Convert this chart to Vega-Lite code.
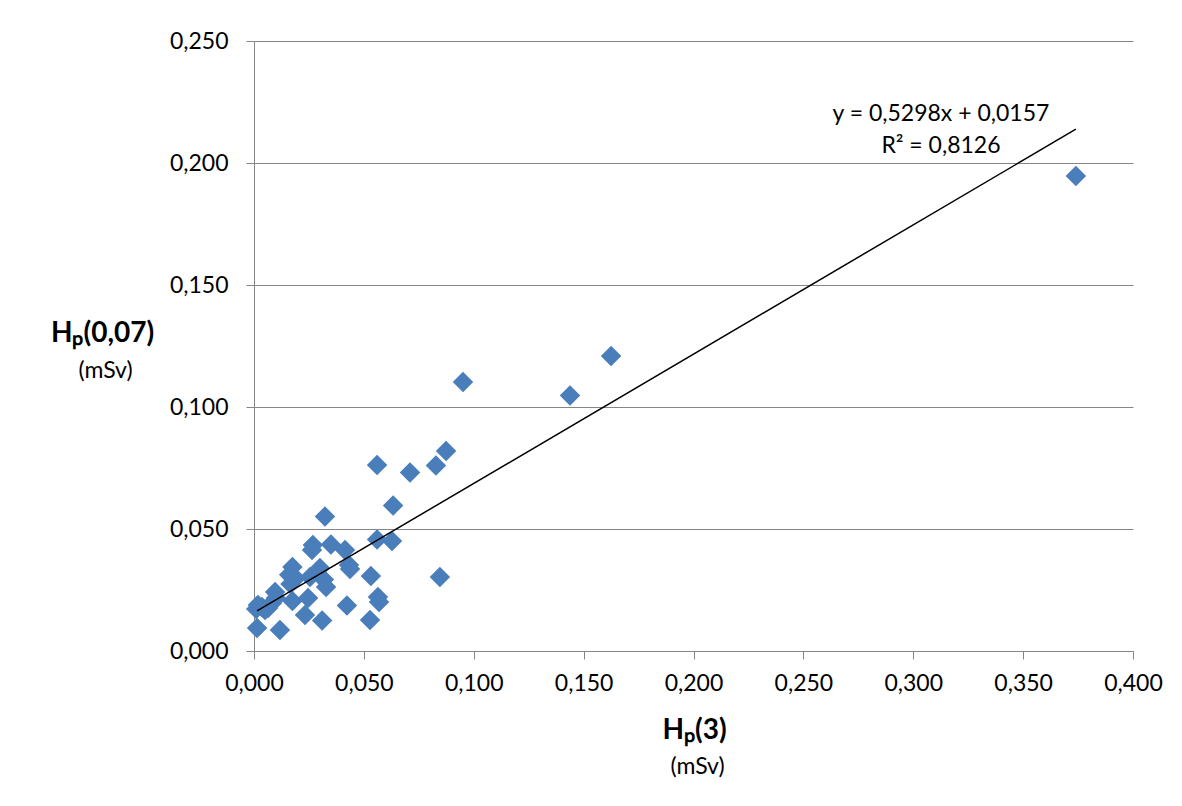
{
  "$schema": "https://vega.github.io/schema/vega-lite/v6.json",
  "width": 879,
  "height": 610,
  "autosize": {"type": "none"},
  "padding": {"left": 254, "top": 41, "right": 49, "bottom": 155},
  "background": "#ffffff",
  "config": {
    "view": {"stroke": null},
    "font": "Lato",
    "axis": {
      "labelFont": "Lato",
      "labelFontSize": 23,
      "labelColor": "#000000",
      "labelFlush": false,
      "labelOverlap": false,
      "titleFont": "Lato",
      "titleColor": "#000000",
      "domainColor": "#868686",
      "tickColor": "#868686",
      "gridColor": "#868686",
      "gridOpacity": 1,
      "tickSize": 8
    }
  },
  "resolve": {"axis": {"x": "independent", "y": "independent"}},
  "layer": [
    {
      "data": {
        "values": [
          {"hp3": 0.374, "hp007": 0.1947},
          {"hp3": 0.1625, "hp007": 0.1209},
          {"hp3": 0.1438, "hp007": 0.1047},
          {"hp3": 0.0951, "hp007": 0.1102},
          {"hp3": 0.0874, "hp007": 0.082},
          {"hp3": 0.0828, "hp007": 0.076},
          {"hp3": 0.071, "hp007": 0.0732},
          {"hp3": 0.056, "hp007": 0.0762},
          {"hp3": 0.0633, "hp007": 0.0596},
          {"hp3": 0.0323, "hp007": 0.0551},
          {"hp3": 0.0628, "hp007": 0.0451},
          {"hp3": 0.056, "hp007": 0.0457},
          {"hp3": 0.0846, "hp007": 0.0303},
          {"hp3": 0.035, "hp007": 0.0436},
          {"hp3": 0.0414, "hp007": 0.0414},
          {"hp3": 0.0268, "hp007": 0.0434},
          {"hp3": 0.0264, "hp007": 0.0414},
          {"hp3": 0.0432, "hp007": 0.0352},
          {"hp3": 0.0437, "hp007": 0.0336},
          {"hp3": 0.0532, "hp007": 0.0307},
          {"hp3": 0.03, "hp007": 0.034},
          {"hp3": 0.0318, "hp007": 0.0293},
          {"hp3": 0.0328, "hp007": 0.0262},
          {"hp3": 0.0255, "hp007": 0.0303},
          {"hp3": 0.0175, "hp007": 0.0344},
          {"hp3": 0.016, "hp007": 0.0312},
          {"hp3": 0.0166, "hp007": 0.0275},
          {"hp3": 0.019, "hp007": 0.0298},
          {"hp3": 0.0246, "hp007": 0.0217},
          {"hp3": 0.0175, "hp007": 0.0205},
          {"hp3": 0.0564, "hp007": 0.0221},
          {"hp3": 0.0569, "hp007": 0.0201},
          {"hp3": 0.0423, "hp007": 0.0186},
          {"hp3": 0.0232, "hp007": 0.0148},
          {"hp3": 0.031, "hp007": 0.0125},
          {"hp3": 0.0528, "hp007": 0.0127},
          {"hp3": 0.0118, "hp007": 0.0086},
          {"hp3": 0.0014, "hp007": 0.0094},
          {"hp3": 0.0018, "hp007": 0.0189},
          {"hp3": 0.0036, "hp007": 0.018},
          {"hp3": 0.0064, "hp007": 0.0176},
          {"hp3": 0.0082, "hp007": 0.0197},
          {"hp3": 0.01, "hp007": 0.0217},
          {"hp3": 0.0096, "hp007": 0.0242},
          {"hp3": 0.005, "hp007": 0.0168},
          {"hp3": 0.001, "hp007": 0.0172}
        ]
      },
      "mark": {"type": "point", "shape": "diamond", "filled": true, "size": 420, "color": "#4a7ebb", "opacity": 1},
      "encoding": {
        "x": {
          "field": "hp3",
          "type": "quantitative",
          "scale": {"domain": [0, 0.4], "nice": false, "zero": true},
          "axis": {
            "orient": "bottom",
            "values": [0, 0.05, 0.1, 0.15, 0.2, 0.25, 0.3, 0.35, 0.4],
            "labelExpr": "replace(format(datum.value, '.3f'), '.', ',')",
            "grid": false,
            "labelPadding": 13,
            "title": "Hₚ(3)",
            "titleFontSize": 28,
            "titleFontWeight": "bold",
            "titleAlign": "center",
            "titleBaseline": "middle",
            "titleX": 440,
            "titleY": 79
          }
        },
        "y": {
          "field": "hp007",
          "type": "quantitative",
          "scale": {"domain": [0, 0.25], "nice": false, "zero": true},
          "axis": {
            "orient": "left",
            "values": [0, 0.05, 0.1, 0.15, 0.2, 0.25],
            "labelExpr": "replace(format(datum.value, '.3f'), '.', ',')",
            "grid": true,
            "labelPadding": 18,
            "title": "Hₚ(0,07)",
            "titleFontSize": 28,
            "titleFontWeight": "bold",
            "titleAngle": 0,
            "titleAlign": "center",
            "titleBaseline": "middle",
            "titleX": -152,
            "titleY": 292
          }
        }
      }
    },
    {
      "data": {
        "values": [
          {"hp3": 0.0014, "hp007": 0.01644},
          {"hp3": 0.374, "hp007": 0.21385}
        ]
      },
      "mark": {"type": "line", "color": "#000000", "strokeWidth": 1.5},
      "encoding": {
        "x": {
          "field": "hp3",
          "type": "quantitative",
          "axis": {
            "orient": "bottom",
            "domain": false,
            "ticks": false,
            "labels": false,
            "grid": false,
            "title": "(mSv)",
            "titleFontSize": 23,
            "titleFontWeight": "normal",
            "titleAlign": "center",
            "titleBaseline": "middle",
            "titleX": 443,
            "titleY": 115
          }
        },
        "y": {
          "field": "hp007",
          "type": "quantitative",
          "axis": {
            "orient": "left",
            "domain": false,
            "ticks": false,
            "labels": false,
            "grid": false,
            "title": "(mSv)",
            "titleFontSize": 23,
            "titleFontWeight": "normal",
            "titleAngle": 0,
            "titleAlign": "center",
            "titleBaseline": "middle",
            "titleX": -149,
            "titleY": 329
          }
        }
      }
    },
    {
      "data": {
        "values": [
          {"hp3": 0.3126, "hp007": 0.2201, "label": "y = 0,5298x + 0,0157"},
          {"hp3": 0.3126, "hp007": 0.207, "label": "R² = 0,8126"}
        ]
      },
      "mark": {"type": "text", "font": "Lato", "fontSize": 23, "color": "#000000", "align": "center", "baseline": "middle"},
      "encoding": {
        "x": {"field": "hp3", "type": "quantitative", "axis": null},
        "y": {"field": "hp007", "type": "quantitative", "axis": null},
        "text": {"field": "label"}
      }
    }
  ]
}
